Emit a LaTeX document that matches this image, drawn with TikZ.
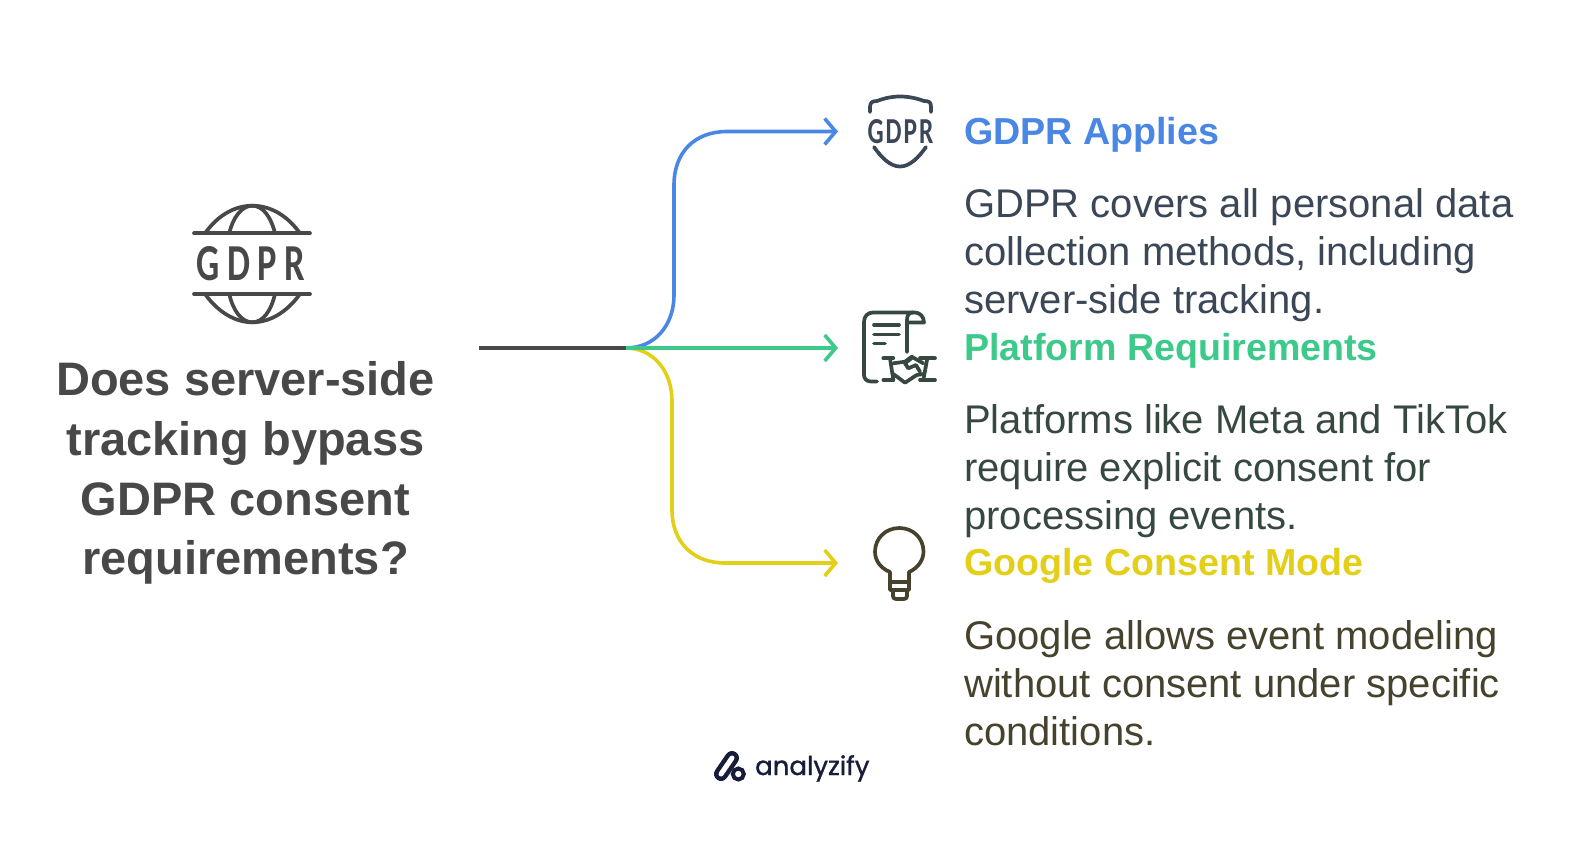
\documentclass[tikz,border=0pt]{standalone}
\usepackage{fontspec}
\usepackage{graphicx}
\usepackage{xcolor}
\setmainfont{Liberation Sans}
\newfontfamily\narrowfont{Carlito}
\newfontfamily\logofont{Poppins}[FakeBold=1.2]
\usetikzlibrary{arrows.meta,calc}
\definecolor{stemgray}{HTML}{484848}
\definecolor{applyblue}{HTML}{4A86E4}
\definecolor{platgreen}{HTML}{3DC98A}
\definecolor{modeyellow}{HTML}{E3CF17}
\definecolor{applyink}{HTML}{3B4657}
\definecolor{platink}{HTML}{36483F}
\definecolor{modeink}{HTML}{46422D}
\definecolor{logoink}{HTML}{171C3A}
\tikzset{
  headtxt/.style={anchor=base west,inner sep=0pt,font=\fontsize{37.6}{48}\selectfont\bfseries},
  bodytxt/.style={anchor=base west,inner sep=0pt,align=left,font=\fontsize{40}{48}\selectfont},
  titletxt/.style={inner sep=0pt,align=center,text=stemgray,font=\fontsize{47}{59.8}\selectfont\bfseries},
  branch/.style={line width=3.6pt,-{Straight Barb[length=11pt,width=26pt,line width=3.6pt]}},
  iconline/.style={line width=3.7pt,line cap=round,line join=round}
}
\begin{document}
\begin{tikzpicture}[x=1pt,y=-1pt]
\useasboundingbox (0,0) rectangle (1584,852);
\coordinate (stemstart) at (479,348);
\coordinate (fork) at (626,348);
\coordinate (applyend) at (838,131.5);
\coordinate (platend) at (838,348);
\coordinate (modeend) at (838,563);
\draw [line width=3.6pt,stemgray] (stemstart) -- (fork);
\draw [branch,applyblue] (fork) .. controls (655,348) and (674,325) .. (674,295) -- (674,185) .. controls (674,152) and (695,131.5) .. (727,131.5) -- (applyend);
\draw [branch,modeyellow] (fork) .. controls (653,348) and (672,371) .. (672,401) -- (672,510) .. controls (672,542) and (693,563) .. (725,563) -- (modeend);
\draw [branch,platgreen] (fork) -- (platend);
% left side
\draw [iconline,stemgray] (194,233.3) -- (310,233.3);
\draw [iconline,stemgray] (194,294) -- (310,294);
\draw [iconline,stemgray] (205,233.3) .. controls (218,215) and (235,205.7) .. (252.3,205.7) .. controls (270,205.7) and (287,215) .. (300,233.3);
\draw [iconline,stemgray] (229.3,233.3) .. controls (233,217) and (242,205.7) .. (252.3,205.7) .. controls (263,205.7) and (271,217) .. (275,233.3);
\draw [iconline,stemgray] (205,294) .. controls (218,312) and (235,322.3) .. (252.3,322.3) .. controls (270,322.3) and (287,312) .. (300,294);
\draw [iconline,stemgray] (229.3,294) .. controls (233,311) and (242,322.3) .. (252.3,322.3) .. controls (263,322.3) and (271,311) .. (275,294);
\node (globetxt) [inner sep=0pt,text=stemgray] at (251,263.5) {\resizebox{108pt}{34pt}{\narrowfont\bfseries G\hspace{.2em}D\hspace{.2em}P\hspace{.2em}R}};
\node (title) [titletxt] at (245.5,473) {Does server-side\\tracking bypass\\GDPR consent\\requirements?};
% first branch
\draw [iconline,applyink] (870,112) -- (870,107) .. controls (870,102) and (873,101) .. (877,101) .. controls (885,98) and (892,96.5) .. (900,96.5) .. controls (908,96.5) and (916,98) .. (924,101) .. controls (929,101) and (931,102) .. (931,107) -- (931,112);
\draw [iconline,applyink] (874,147) .. controls (881,157) and (890,166.5) .. (900,166.5) .. controls (910,166.5) and (919,157) .. (926,147);
\node (shieldtxt) [inner sep=0pt,text=applyink] at (900.5,131.5) {\resizebox{66pt}{24pt}{\narrowfont\bfseries G\hspace{.08em}D\hspace{.08em}P\hspace{.08em}R}};
\node (applyhead) [headtxt,text=applyblue] at (964,144.5) {GDPR Applies};
\node (applybody) [bodytxt,text=applyink] at (964,313) {GDPR covers all personal data\\collection methods, including\\server-side tracking.};
% second branch
\draw [iconline,platink] (877,381.5) -- (871,381.5) .. controls (866,381.5) and (864,378) .. (864,375) -- (864,322) .. controls (864,316) and (868,312.5) .. (873,312.5) -- (915,312.5) .. controls (920,312.5) and (924,317) .. (924,322.5) -- (907,322.5);
\draw [iconline,platink] (907,352) -- (907,320) .. controls (907,315) and (909,312.5) .. (913,312.5);
\draw [iconline,platink] (874,325) -- (899,325);
\draw [iconline,platink] (874,334.5) -- (899,334.5);
\draw [iconline,platink] (874,343.5) -- (885,343.5);
\draw [iconline,platink] (883.3,358.3) -- (893.3,358.3);
\draw [iconline,platink] (890,358.3) -- (893.3,380);
\draw [iconline,platink] (883.3,380) -- (893.3,380);
\draw [iconline,platink] (920,358.3) -- (935,358.3);
\draw [iconline,platink] (927.3,358.3) -- (923.3,380);
\draw [iconline,platink] (920,380) -- (935,380);
\draw [iconline,platink] (893.3,363.3) -- (905,361.7) -- (911.7,356.7) -- (923.3,363.3);
\draw [iconline,platink] (893.3,374) -- (905,382.7) -- (916.7,375) -- (923.3,374);
\draw [iconline,platink] (911.7,358) -- (905,363.3) -- (908.3,368.3) -- (916,365) -- (920,371.7);
\node (plathead) [headtxt,text=platgreen] at (964,360.5) {Platform Requirements};
\node (platbody) [bodytxt,text=platink] at (964,529) {Platforms like Meta and TikTok\\require explicit consent for\\processing events.};
% third branch
\draw [iconline,modeink] (890,575) -- (890,572) .. controls (880,568) and (875,560) .. (875,551.7) .. controls (875,538) and (886,528) .. (899.3,528) .. controls (913,528) and (923.5,538) .. (923.5,551.7) .. controls (923.5,560) and (918,568) .. (909,572) -- (909,590) -- (890,590) -- cycle;
\draw [iconline,modeink] (890,582) -- (909,582);
\draw [iconline,modeink] (893,590) -- (893,596) .. controls (893,598) and (894,599) .. (896,599) -- (904,599) .. controls (906,599) and (907,598) .. (907,596) -- (907,590);
\node (modehead) [headtxt,text=modeyellow] at (964,575) {Google Consent Mode};
\node (modebody) [bodytxt,text=modeink] at (964,745) {Google allows event modeling\\without consent under specific\\conditions.};
% logo
\draw [line width=14pt,line cap=round,logoink] (721,774) -- (732,758);
\draw [line width=5pt,line cap=round,white] (721,774) -- (732,758);
\draw [line width=4pt,logoink,fill=white] (738.3,774) circle (5.5);
\node (logotxt) [anchor=base west,inner sep=0pt,text=logoink,font=\fontsize{26}{30}\selectfont\logofont] at (755,775) {analyzify};
\end{tikzpicture}
\end{document}
